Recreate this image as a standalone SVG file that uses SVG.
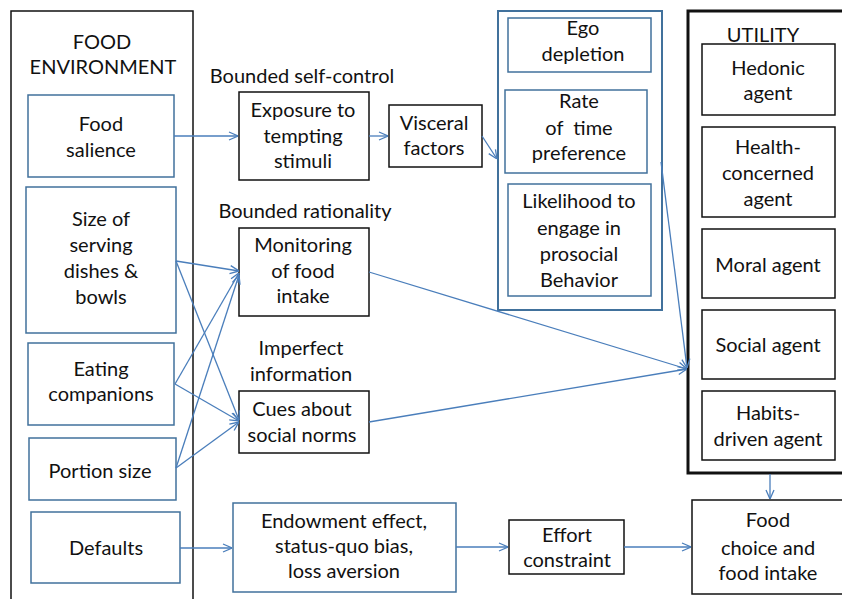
<svg xmlns="http://www.w3.org/2000/svg" width="842" height="599" viewBox="0 0 842 599">
<defs>
<marker id="arr" viewBox="0 0 10 10" refX="10" refY="5" markerWidth="10" markerHeight="10" markerUnits="userSpaceOnUse" orient="auto">
<path d="M1,1 L10,5 L1,9" fill="none" stroke="#4a7ebb" stroke-width="1.3"/>
</marker>
</defs>
<style>
text{font-family:Lato,"Open Sans","Liberation Sans",sans-serif;font-size:20px;fill:#111;text-anchor:middle}
.bb{fill:#fff;stroke:#41719c;stroke-width:1.5}
.kb{fill:#fff;stroke:#111;stroke-width:1.5}
.ln{fill:none;stroke:#4a7ebb;stroke-width:1.3;marker-end:url(#arr)}
</style>
<rect width="842" height="599" fill="#fff"/>
<g id="food-environment">
<rect x="11" y="11" width="182" height="600" fill="none" stroke="#111" stroke-width="1.5"/>
<text x="102" y="49">FOOD</text>
<text x="103" y="74">ENVIRONMENT</text>
</g>
<g id="food-salience"><rect class="bb" x="28" y="95" width="146" height="82"/><text x="101" y="131">Food</text><text x="101" y="157">salience</text></g>
<g id="size-dishes"><rect class="bb" x="26" y="187" width="150" height="146"/><text x="101" y="226">Size of</text><text x="101" y="252">serving</text><text x="101" y="278">dishes &amp;</text><text x="101" y="304">bowls</text></g>
<g id="eating-companions"><rect class="bb" x="28" y="343" width="146" height="82"/><text x="101" y="376">Eating</text><text x="101" y="401">companions</text></g>
<g id="portion-size"><rect class="bb" x="29" y="438" width="147" height="62"/><text x="100" y="478">Portion size</text></g>
<g id="defaults"><rect class="bb" x="31" y="512" width="149" height="71"/><text x="106" y="555">Defaults</text></g>
<g id="bounded-self-control-label"><text x="302" y="83">Bounded self-control</text></g>
<g id="exposure"><rect class="kb" x="239" y="92" width="130" height="88"/><text x="303" y="117">Exposure to</text><text x="303" y="143">tempting</text><text x="303" y="168">stimuli</text></g>
<g id="visceral"><rect class="kb" x="389" y="105" width="93" height="62" stroke-width="2"/><text x="434" y="130">Visceral</text><text x="434" y="155">factors</text></g>
<g id="bounded-rationality-label"><text x="305" y="218">Bounded rationality</text></g>
<g id="monitoring"><rect class="kb" x="239" y="228" width="130" height="88"/><text x="303" y="252">Monitoring</text><text x="303" y="278">of food</text><text x="303" y="303">intake</text></g>
<g id="imperfect-information-label"><text x="301" y="355">Imperfect</text><text x="301" y="381">information</text></g>
<g id="cues"><rect class="kb" x="239" y="391" width="130" height="62"/><text x="302" y="416">Cues about</text><text x="302" y="442">social norms</text></g>
<g id="endowment"><rect class="bb" x="233" y="503" width="223" height="89"/><text x="344" y="528">Endowment effect,</text><text x="344" y="553">status-quo bias,</text><text x="344" y="578">loss aversion</text></g>
<g id="effort"><rect class="kb" x="509" y="520" width="115" height="54"/><text x="567" y="542">Effort</text><text x="567" y="567">constraint</text></g>
<g id="food-choice"><rect class="kb" x="692" y="500" width="160" height="94" stroke-width="2"/><text x="768" y="527">Food</text><text x="768" y="555">choice and</text><text x="768" y="580">food intake</text></g>
<g id="self-control-factors">
<rect x="498" y="11" width="164" height="299" fill="none" stroke="#41719c" stroke-width="2"/>
</g>
<g id="ego-depletion"><rect class="bb" x="508" y="18" width="143" height="54"/><text x="583" y="35">Ego</text><text x="583" y="61">depletion</text></g>
<g id="rate-time"><rect class="bb" x="505" y="90" width="142" height="83"/><text x="579" y="108">Rate</text><text x="579" y="135" xml:space="preserve">of  time</text><text x="579" y="160">preference</text></g>
<g id="likelihood"><rect class="bb" x="508" y="184" width="143" height="112"/><text x="579" y="208">Likelihood to</text><text x="579" y="235">engage in</text><text x="579" y="261">prosocial</text><text x="579" y="287">Behavior</text></g>
<g id="utility">
<rect x="688" y="11" width="160" height="462" fill="none" stroke="#111" stroke-width="3"/>
<text x="763" y="42">UTILITY</text>
</g>
<g id="hedonic"><rect class="kb" x="702" y="44" width="133" height="71"/><text x="768" y="75">Hedonic</text><text x="768" y="100">agent</text></g>
<g id="health"><rect class="kb" x="702" y="127" width="133" height="90"/><text x="768" y="154">Health-</text><text x="768" y="180">concerned</text><text x="768" y="206">agent</text></g>
<g id="moral"><rect class="kb" x="702" y="229" width="133" height="69"/><text x="768" y="272">Moral agent</text></g>
<g id="social"><rect class="kb" x="702" y="310" width="133" height="69"/><text x="768" y="352">Social agent</text></g>
<g id="habits"><rect class="kb" x="702" y="391" width="133" height="69"/><text x="768" y="420">Habits-</text><text x="768" y="446">driven agent</text></g>
<g id="connectors">
<line class="ln" x1="174" y1="136" x2="238" y2="136"/>
<line class="ln" x1="369" y1="136" x2="388" y2="136"/>
<line class="ln" x1="482" y1="136" x2="497" y2="159"/>
<line class="ln" x1="176" y1="261" x2="239" y2="271"/>
<line class="ln" x1="175" y1="384" x2="239" y2="273"/>
<line class="ln" x1="176" y1="468" x2="239" y2="275"/>
<line class="ln" x1="176" y1="261" x2="239" y2="420"/>
<line class="ln" x1="175" y1="384" x2="239" y2="421"/>
<line class="ln" x1="176" y1="468" x2="239" y2="422"/>
<line class="ln" x1="369" y1="272" x2="687" y2="369"/>
<line class="ln" x1="369" y1="422" x2="687" y2="369"/>
<line class="ln" x1="661" y1="162" x2="687" y2="368"/>
<line class="ln" x1="770" y1="474" x2="770" y2="499"/>
<line class="ln" x1="180" y1="548" x2="232" y2="548"/>
<line class="ln" x1="456" y1="547" x2="508" y2="547"/>
<line class="ln" x1="624" y1="547" x2="691" y2="547"/>
</g>
</svg>
